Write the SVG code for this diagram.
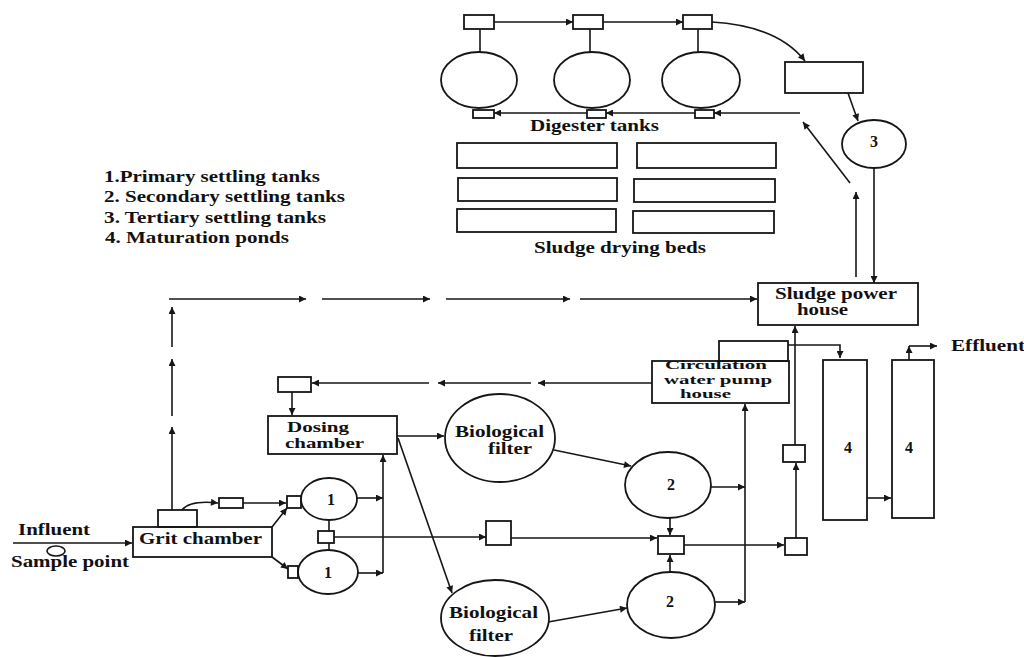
<svg xmlns="http://www.w3.org/2000/svg" width="1024" height="657" viewBox="0 0 1024 657">
<style>
.s{fill:none;stroke:#161616;stroke-width:1.8}
.c{fill:none;stroke:#161616;stroke-width:1.6}
.a{fill:none;stroke:#161616;stroke-width:1.6;marker-end:url(#ah)}
text{font-family:"Liberation Serif","Times New Roman",serif;font-weight:bold;font-size:16px;fill:#111}
.m{text-anchor:middle}
.t14{font-size:14px}
.t13{font-size:13px}
</style>
<defs>
<marker id="ah" viewBox="0 0 10 10" refX="10" refY="5" markerWidth="10" markerHeight="7" markerUnits="userSpaceOnUse" orient="auto"><path d="M0,0 L10,5 L0,10 z" fill="#161616"/></marker>
</defs>
<rect width="1024" height="657" fill="#fff"/>

<g id="legend">
<text x="104" y="182" textLength="216" lengthAdjust="spacingAndGlyphs">1.Primary settling tanks</text>
<text x="104" y="202" textLength="241" lengthAdjust="spacingAndGlyphs">2. Secondary settling tanks</text>
<text x="104" y="223" textLength="222" lengthAdjust="spacingAndGlyphs">3. Tertiary settling tanks</text>
<text x="105" y="243" textLength="184" lengthAdjust="spacingAndGlyphs">4. Maturation ponds</text>
</g>

<g id="digester-tanks">
<rect class="s" x="464" y="15" width="30" height="14"/>
<rect class="s" x="573" y="15" width="30" height="14"/>
<rect class="s" x="683" y="15" width="29" height="14"/>
<ellipse class="s" cx="479" cy="80" rx="38" ry="28"/>
<ellipse class="s" cx="592" cy="80" rx="38" ry="28"/>
<ellipse class="s" cx="701" cy="80" rx="39" ry="28"/>
<rect class="s" x="473" y="110" width="21" height="8"/>
<rect class="s" x="587" y="110" width="19" height="8"/>
<rect class="s" x="695" y="110" width="19" height="8"/>
<text x="530" y="131" textLength="129" lengthAdjust="spacingAndGlyphs">Digester tanks</text>
</g>

<g id="digester-feed-box"><rect class="s" x="785" y="62" width="78" height="31"/></g>

<g id="tank-3">
<ellipse class="s" cx="874" cy="144" rx="32" ry="24"/>
<text class="m" x="874" y="147">3</text>
</g>

<g id="sludge-drying-beds">
<rect class="s" x="457" y="143" width="160" height="25"/>
<rect class="s" x="458" y="178" width="159" height="23"/>
<rect class="s" x="457" y="209" width="159" height="23"/>
<rect class="s" x="637" y="143" width="139" height="25"/>
<rect class="s" x="634" y="179" width="141" height="23"/>
<rect class="s" x="633" y="211" width="141" height="22"/>
<text x="534" y="253" textLength="172" lengthAdjust="spacingAndGlyphs">Sludge drying beds</text>
</g>

<g id="sludge-power-house">
<rect class="s" x="758" y="283" width="160" height="42"/>
<text x="775" y="299" textLength="122" lengthAdjust="spacingAndGlyphs">Sludge power</text>
<text x="797" y="315" textLength="51" lengthAdjust="spacingAndGlyphs">house</text>
</g>

<g id="circulation-pump-house">
<rect class="s" x="719" y="341" width="69" height="20"/>
<rect class="s" x="652" y="361" width="137" height="42"/>
<text class="t13" x="665" y="369" textLength="102" lengthAdjust="spacingAndGlyphs">Circulation</text>
<text class="t13" x="664" y="383.5" textLength="108" lengthAdjust="spacingAndGlyphs">water pump</text>
<text class="t13" x="680" y="398" textLength="51" lengthAdjust="spacingAndGlyphs">house</text>
</g>

<g id="pond-1">
<rect class="s" x="823" y="360" width="44" height="160"/>
<text class="m" x="848" y="453">4</text>
</g>
<g id="pond-2">
<rect class="s" x="892" y="360" width="42" height="158"/>
<text class="m" x="909" y="453">4</text>
</g>
<g id="effluent"><text x="951" y="351" textLength="74" lengthAdjust="spacingAndGlyphs">Effluent</text></g>

<g id="dosing-box"><rect class="s" x="278" y="377" width="33" height="15"/></g>
<g id="dosing-chamber">
<rect class="s" x="268" y="416" width="129" height="38"/>
<text class="t14" x="287" y="432" textLength="62" lengthAdjust="spacingAndGlyphs">Dosing</text>
<text class="t14" x="285" y="447.5" textLength="79" lengthAdjust="spacingAndGlyphs">chamber</text>
</g>

<g id="biological-filter-1">
<ellipse class="s" cx="500" cy="438" rx="55" ry="44"/>
<text x="455" y="437" textLength="89" lengthAdjust="spacingAndGlyphs">Biological</text>
<text x="488" y="454" textLength="44" lengthAdjust="spacingAndGlyphs">filter</text>
</g>
<g id="biological-filter-2">
<ellipse class="s" cx="495" cy="618" rx="54" ry="38"/>
<text x="449" y="618" textLength="89" lengthAdjust="spacingAndGlyphs">Biological</text>
<text x="469" y="641" textLength="44" lengthAdjust="spacingAndGlyphs">filter</text>
</g>

<g id="influent">
<text x="18" y="535" textLength="72" lengthAdjust="spacingAndGlyphs">Influent</text>
<ellipse class="c" cx="56" cy="551" rx="9" ry="5"/>
<text x="11" y="567" textLength="118" lengthAdjust="spacingAndGlyphs">Sample point</text>
</g>

<g id="grit-chamber">
<rect class="s" x="158" y="510" width="39" height="17"/>
<rect class="s" x="133" y="527" width="139" height="30"/>
<text x="139" y="544" textLength="123" lengthAdjust="spacingAndGlyphs">Grit chamber</text>
</g>

<g id="grit-box"><rect class="s" x="219" y="498" width="24" height="10"/></g>
<g id="inlet-sq-1"><rect class="s" x="287" y="496" width="14" height="12"/></g>
<g id="inlet-sq-2"><rect class="s" x="288" y="566" width="10" height="12"/></g>
<g id="primary-1a">
<ellipse class="s" cx="329" cy="499" rx="28" ry="21"/>
<text class="m" x="331" y="505">1</text>
</g>
<g id="primary-sq"><rect class="s" x="318" y="531" width="16" height="12"/></g>
<g id="primary-1b">
<ellipse class="s" cx="328" cy="572" rx="30" ry="22"/>
<text class="m" x="328" y="578">1</text>
</g>
<g id="bypass-box"><rect class="s" x="486" y="521" width="25" height="24"/></g>
<g id="secondary-2a">
<ellipse class="s" cx="668" cy="485" rx="43" ry="33"/>
<text class="m" x="671" y="490">2</text>
</g>
<g id="secondary-2b">
<ellipse class="s" cx="671" cy="605" rx="44" ry="33"/>
<text class="m" x="670" y="607">2</text>
</g>
<g id="mix-box"><rect class="s" x="658" y="536" width="26" height="18"/></g>
<g id="out-box-1"><rect class="s" x="785" y="538" width="22" height="17"/></g>
<g id="out-box-2"><rect class="s" x="783" y="445" width="22" height="17"/></g>

<g id="connectors">
<path class="a" d="M494,22 H573"/>
<path class="a" d="M603,22 H683"/>
<path class="a" d="M712,22 Q778,26 805,61"/>
<path class="c" d="M480,29 V52 M590,29 V52 M698,29 V52"/>
<path class="a" d="M587,113 H494"/>
<path class="a" d="M695,113 H606"/>
<path class="a" d="M800,113 H714"/>
<path class="a" d="M848,93 L858,121"/>
<path class="a" d="M874,168 V283"/>
<path class="a" d="M856,277 V192"/>
<path class="a" d="M850,183 L803,122"/>
<path class="a" d="M169,299 H306"/>
<path class="a" d="M322,299 H430"/>
<path class="a" d="M446,299 H570"/>
<path class="a" d="M580,299 H757"/>
<path class="a" d="M172,510 V427"/>
<path class="a" d="M172,416 V359"/>
<path class="a" d="M172,347 V307"/>
<path class="a" d="M652,383 H538"/>
<path class="a" d="M531,383 H438"/>
<path class="a" d="M429,383 H312"/>
<path class="a" d="M292,392 V415"/>
<path class="a" d="M13,543 H132"/>
<path class="a" d="M182,510 Q190,500 218,503"/>
<path class="a" d="M243,503 H286"/>
<path class="a" d="M272,527 L287,508"/>
<path class="a" d="M272,557 L288,569"/>
<path class="c" d="M329,520 V531 M329,543 V550"/>
<path class="a" d="M357,498 H383"/>
<path class="a" d="M358,573 H383"/>
<path class="a" d="M383,573 V455"/>
<path class="a" d="M397,436 H444"/>
<path class="a" d="M398,438 L452,593"/>
<path class="a" d="M334,537 H486"/>
<path class="a" d="M511,538 H657"/>
<path class="a" d="M554,450 L631,466"/>
<path class="a" d="M548,622 L627,608"/>
<path class="a" d="M670,518 V535"/>
<path class="a" d="M670,572 V555"/>
<path class="a" d="M711,487 H745"/>
<path class="a" d="M715,602 H745"/>
<path class="a" d="M745,602 V404"/>
<path class="a" d="M684,545 H784"/>
<path class="a" d="M796,538 V463"/>
<path class="a" d="M795,445 V326"/>
<path class="a" d="M788,345 H840 V358"/>
<path class="a" d="M909,360 V346"/>
<path class="a" d="M909,346 H937"/>
<path class="a" d="M867,498 H891"/>
</g>
</svg>
